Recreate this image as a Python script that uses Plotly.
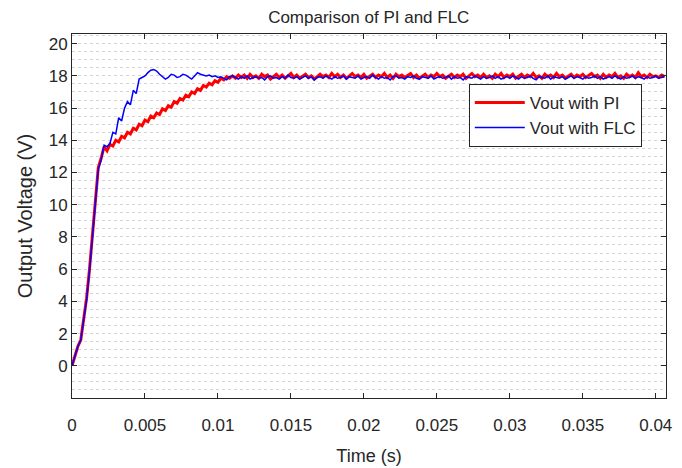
import numpy as np
import plotly.graph_objects as go

# sample step of the simulation output (s)
dt = 0.0002

# Vout with PI controller (V), one value per sample
vout_pi = [
    0, 0.6, 1.2, 1.6, 2.8, 4.2, 6.0, 8.0, 10.4, 12.3,
    12.9, 13.6, 13.35, 13.75, 13.65, 14.0, 13.9, 14.25, 14.15, 14.5,
    14.4, 14.75, 14.65, 15.0, 14.9, 15.25, 15.15, 15.5, 15.4, 15.7,
    15.6, 15.95, 15.85, 16.15, 16.05, 16.4, 16.3, 16.6, 16.5, 16.8,
    16.7, 17.0, 16.9, 17.2, 17.1, 17.4, 17.3, 17.55, 17.45, 17.7,
    17.6, 17.85, 17.75, 17.95, 17.85, 18.0, 17.85, 18.05, 17.9,
    18.05, 17.85, 18.10, 17.90, 18.00, 17.85, 18.10, 17.95, 18.05, 17.80,
    17.95, 18.10, 17.90, 18.05, 17.85, 18.00, 18.15, 17.90, 18.05, 17.85,
    18.00, 18.10, 17.90, 18.00, 17.80, 17.95, 18.10, 17.95, 18.05, 17.90,
    18.15, 17.95, 18.10, 17.90, 18.05, 17.85, 18.00, 18.15, 17.95, 18.05,
    17.90, 18.10, 17.85, 18.00, 18.10, 17.90, 18.05, 17.95, 18.15, 17.90,
    18.05, 17.85, 18.10, 17.95, 18.05, 17.90, 18.00, 18.15, 17.90, 18.05,
    17.85, 18.00, 18.10, 17.90, 18.05, 17.95, 18.15, 17.95, 18.05, 17.85,
    18.00, 18.10, 17.90, 18.05, 17.95, 18.10, 17.85, 18.00, 18.15, 17.95,
    18.05, 17.90, 18.10, 17.90, 18.00, 17.85, 18.10, 17.95, 18.15, 17.90,
    18.05, 17.95, 18.10, 17.85, 18.00, 18.10, 17.90, 18.05, 17.95, 18.15,
    17.90, 18.00, 17.85, 18.10, 17.95, 18.05, 17.90, 18.15, 17.95, 18.05,
    17.85, 18.00, 18.10, 17.90, 18.05, 17.95, 18.10, 17.90, 18.00, 18.15,
    17.95, 18.05, 17.85, 18.10, 17.90, 18.05, 17.95, 18.15, 17.90, 18.00,
    17.85, 18.10, 17.95, 18.05, 17.90, 18.20, 17.95, 18.05, 17.90, 18.10,
    17.95, 18.00, 17.90, 18.05, 17.95,
]

# Vout with FLC (V)
vout_flc = [
    0, 0.6, 1.2, 1.6, 2.8, 4.1, 5.9, 7.9, 10.3, 12.2,
    12.8, 13.7, 13.6, 13.8, 14.5, 14.4, 15.4, 15.2, 16.0, 16.4,
    16.2, 17.1, 16.9, 17.8, 17.9, 18.0, 18.2, 18.35, 18.4, 18.3,
    18.1, 17.95, 17.8, 17.9, 18.1, 18.05, 17.9, 17.95, 18.1, 18.05,
    17.9, 17.8, 18.0, 18.2, 18.1, 18.05, 18.0, 18.05, 17.95, 18.0,
    17.9, 17.95, 17.85, 17.75, 17.95, 18.0,
    17.90, 17.80, 17.95, 17.85, 18.00, 17.80, 17.90, 17.95, 17.85, 17.90,
    17.75, 17.95, 18.00, 17.85, 17.90, 17.80, 17.95, 17.85, 18.05, 17.90,
    17.85, 17.95, 17.80, 17.90, 18.00, 17.85, 17.95, 17.75, 17.90, 17.95,
    17.85, 18.00, 17.90, 17.80, 17.95, 17.85, 17.90, 18.00, 17.80, 17.95,
    17.90, 17.85, 18.00, 17.80, 17.90, 17.95, 17.85, 18.05, 17.90, 17.80,
    17.95, 17.85, 17.90, 17.75, 17.95, 18.00, 17.85, 17.90, 17.80, 17.95,
    17.90, 18.00, 17.85, 17.80, 17.95, 17.90, 17.85, 18.00, 17.80, 17.90,
    17.95, 17.85, 17.90, 18.00, 17.80, 17.95, 17.85, 17.90, 17.75, 17.95,
    17.90, 17.85, 18.00, 17.90, 17.80, 17.95, 17.85, 17.90, 18.00, 17.85,
    17.95, 17.80, 17.90, 17.95, 17.85, 18.00, 17.90, 17.80, 17.95, 17.85,
    17.90, 18.00, 17.85, 17.75, 17.95, 17.90, 17.85, 18.00, 17.80, 17.95,
    17.90, 17.85, 17.95, 17.80, 17.90, 18.00, 17.85, 17.95, 17.90, 17.80,
    17.95, 17.85, 17.90, 18.00, 17.85, 17.95, 17.80, 17.90, 17.95, 17.85,
    18.00, 17.90, 17.80, 17.95, 17.85, 17.90, 18.00, 17.85, 17.95, 17.90,
    17.80, 17.95, 17.85, 17.90, 18.00, 17.85, 17.90, 17.95,
]

y_ticks = [0, 2, 4, 6, 8, 10, 12, 14, 16, 18, 20]

t_pi = np.arange(len(vout_pi)) * dt
t_flc = np.arange(len(vout_flc)) * dt

font = 'Liberation Sans, Arial, sans-serif'

fig = go.Figure()
fig.add_trace(go.Scatter(x=t_pi, y=vout_pi, mode='lines', name='Vout with PI',
                         line=dict(color='#ff0000', width=3)))
fig.add_trace(go.Scatter(x=t_flc, y=vout_flc, mode='lines', name='Vout with FLC',
                         line=dict(color='#0000ff', width=1.5)))

# page body adds 8px offset, margins are set with that in mind
fig.update_layout(
    width=682, height=468,
    margin=dict(l=64, r=24, t=26, b=78),
    paper_bgcolor='white', plot_bgcolor='white',
    font=dict(family=font, size=17, color='#262626'),
    title=dict(text='Comparison of PI and FLC', x=0.529, xanchor='center',
               y=0.981, yanchor='middle', font=dict(size=17, color='#262626')),
    legend=dict(x=0.668, y=0.863, xanchor='left', yanchor='top',
                bgcolor='white', bordercolor='#262626', borderwidth=1,
                itemwidth=50,
                font=dict(size=17, color='#262626'), tracegroupgap=2),
    showlegend=True,
)

fig.update_xaxes(
    range=[0, 0.0407], dtick=0.005, tick0=0,
    showgrid=False, zeroline=False, automargin=False,
    showline=True, linecolor='#262626', linewidth=1, mirror='ticks',
    ticks='inside', ticklen=5, tickcolor='#262626', ticklabelstandoff=12,
    title=dict(text='Time (s)', font=dict(size=18), standoff=14),
)
fig.update_yaxes(
    range=[-2, 20.6], tickvals=y_ticks,
    showgrid=True, gridcolor='#d4d4d4', griddash='dot', gridwidth=1,
    minor=dict(dtick=0.5, tick0=0, showgrid=True, gridcolor='#d4d4d4', griddash='dot'),
    zeroline=False, automargin=False,
    showline=True, linecolor='#262626', linewidth=1, mirror='ticks',
    ticks='inside', ticklen=5, tickcolor='#262626',
    title=dict(text='Output Voltage (V)', font=dict(size=20), standoff=10),
)

fig.write_html("out.html")
